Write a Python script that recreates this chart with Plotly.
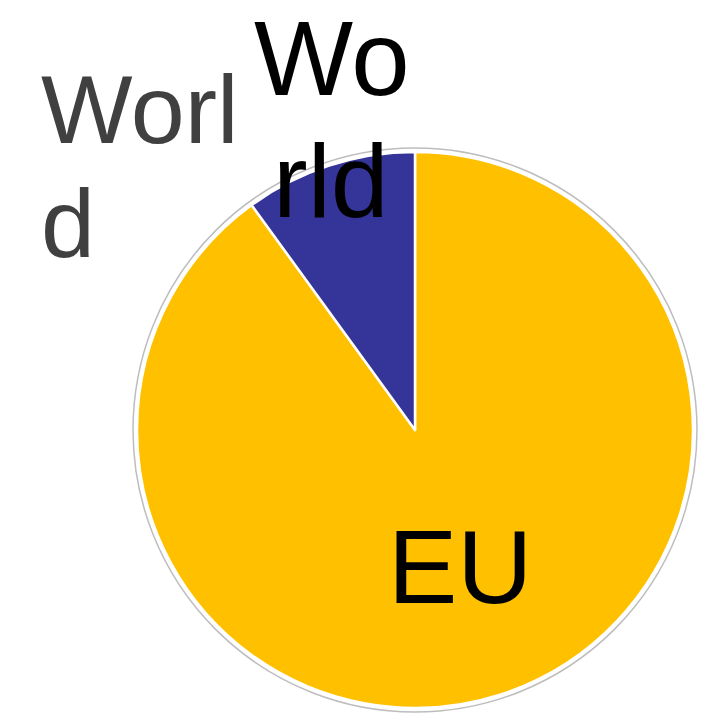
import plotly.graph_objects as go

# Share of the total by region
regions = ["EU", "World"]
shares = [90, 10]
colors = ["#FFC000", "#353599"]
title_text = "World"

W, H = 713, 716
FONT = "Liberation Sans, Arial, sans-serif"


def px_x(x):
    return x / W


def px_y(y):
    return 1 - y / H


fig = go.Figure()

# thin grey rim drawn slightly outside the pie
fig.add_trace(go.Pie(
    values=[1],
    labels=[""],
    marker=dict(colors=["#ffffff"], line=dict(color="#bdbdbd", width=1.5)),
    textinfo="none",
    hoverinfo="skip",
    showlegend=False,
    sort=False,
    domain=dict(x=[px_x(133), px_x(697)], y=[px_y(712), px_y(148)]),
))

fig.add_trace(go.Pie(
    labels=regions,
    values=shares,
    marker=dict(colors=colors, line=dict(color="#ffffff", width=2.5)),
    textinfo="none",
    sort=False,
    direction="clockwise",
    rotation=0,
    showlegend=False,
    domain=dict(x=[px_x(137), px_x(693)], y=[px_y(708), px_y(152)]),
))

# slice labels and heading, broken over lines
label_lines = [
    (regions[0], 460, 567, 104),
    (regions[1][:2], 332, 58, 105),
    (regions[1][2:], 331, 181, 104),
]
title_lines = [
    (title_text[:4], 39, 109),
    (title_text[4:], 39, 223),
]

annotations = []
for txt, x, y, size in label_lines:
    annotations.append(dict(
        text=txt, x=px_x(x), y=px_y(y), xref="paper", yref="paper",
        xanchor="center", yanchor="middle", showarrow=False,
        font=dict(family=FONT, size=size, color="black"),
    ))
for txt, x, y in title_lines:
    annotations.append(dict(
        text=txt, x=px_x(x), y=px_y(y), xref="paper", yref="paper",
        xanchor="left", yanchor="middle", showarrow=False,
        font=dict(family=FONT, size=97, color="#404040"),
    ))

fig.update_layout(
    width=W, height=H,
    margin=dict(l=0, r=0, t=0, b=0),
    paper_bgcolor="white",
    plot_bgcolor="white",
    annotations=annotations,
)

fig.write_html("out.html")
